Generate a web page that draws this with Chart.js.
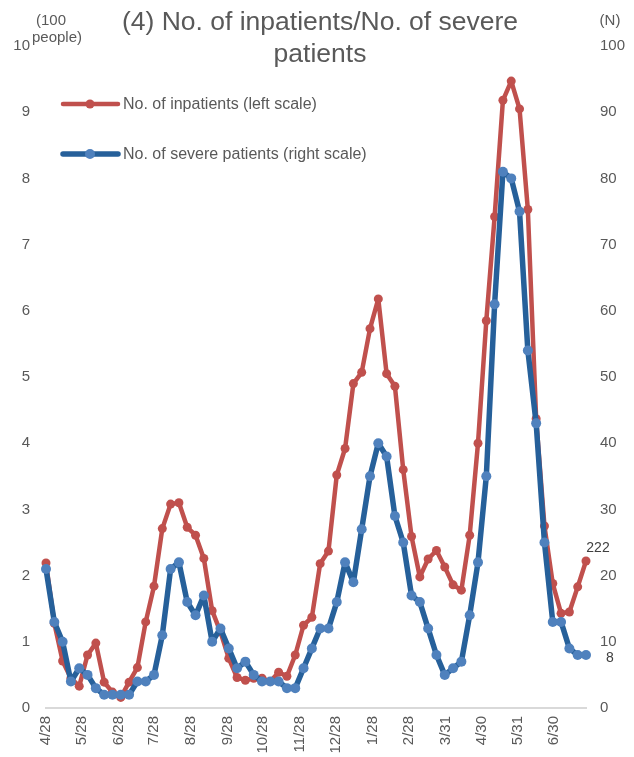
<!DOCTYPE html>
<html>
<head>
<meta charset="utf-8">
<script src="https://cdn.jsdelivr.net/npm/chart.js@4.4.1/dist/chart.umd.min.js"></script>
<style>
  html, body { margin: 0; padding: 0; background: #fff; }
</style>
</head>
<body>
<canvas id="chart" width="634" height="757"></canvas>
<script>
// weekly series starting 2020-04-28
const startDate = "2020-04-28";

// inpatients, in hundreds of people (left scale)
const inpatients = [
  2.19, 1.28, 0.71, 0.45, 0.33, 0.80, 0.98, 0.39, 0.24, 0.16,
  0.39, 0.61, 1.30, 1.84, 2.71, 3.08, 3.10, 2.73, 2.61, 2.26,
  1.47, 1.15, 0.75, 0.46, 0.42, 0.45, 0.45, 0.40, 0.54, 0.48,
  0.80, 1.25, 1.37, 2.18, 2.37, 3.52, 3.92, 4.90, 5.07, 5.73,
  6.18, 5.05, 4.86, 3.60, 2.59, 1.98, 2.25, 2.38, 2.13, 1.86,
  1.78, 2.61, 4.00, 5.85, 7.42, 9.18, 9.47, 9.05, 7.53, 4.37,
  2.75, 1.88, 1.43, 1.45, 1.83, 2.22
];

// severe patients, persons (right scale)
const severe = [
  21, 13, 10, 4, 6, 5, 3, 2, 2, 2,
  2, 4, 4, 5, 11, 21, 22, 16, 14, 17,
  10, 12, 9, 6, 7, 5, 4, 4, 4, 3,
  3, 6, 9, 12, 12, 16, 22, 19, 27, 35,
  40, 38, 29, 25, 17, 16, 12, 8, 5, 6,
  7, 14, 22, 35, 61, 81, 80, 75, 54, 43,
  25, 13, 13, 9, 8, 8
];

const tickDates = [
  "2020-04-28", "2020-05-28", "2020-06-28", "2020-07-28", "2020-08-28",
  "2020-09-28", "2020-10-28", "2020-11-28", "2020-12-28", "2021-01-28",
  "2021-02-28", "2021-03-31", "2021-04-30", "2021-05-31", "2021-06-30"
];

const titleLines = ["(4) No. of inpatients/No. of severe", "patients"];
const seriesNames = ["No. of inpatients (left scale)", "No. of severe patients (right scale)"];
const leftUnit = ["(100", "people)"];
const rightUnit = "(N)";

const FONT = '"Liberation Sans", Arial, sans-serif';
const GREY = "#595959";
const RED = "#c0504d";
const BLUE_LINE = "#26609a";
const BLUE_DOT = "#4f81bd";

const DAY = 86400000;
const dayOf = s => Math.round((Date.parse(s) - Date.parse(startDate)) / DAY);
const tickDays = tickDates.map(dayOf);
const tickLabels = tickDates.map(s => {
  const d = new Date(s);
  return (d.getUTCMonth() + 1) + "/" + d.getUTCDate();
});
const lastDay = (inpatients.length - 1) * 7;

const annotate = {
  id: "annotate",
  afterDraw(chart) {
    const c = chart.ctx;
    const a = chart.chartArea;
    c.save();

    // title
    c.fillStyle = GREY;
    c.font = "26.5px " + FONT;
    c.textAlign = "center";
    c.textBaseline = "alphabetic";
    titleLines.forEach((t, i) => c.fillText(t, chart.width / 2 + 3, 30 + i * 32));

    // axis units
    c.font = "15px " + FONT;
    c.textAlign = "left";
    c.fillText(leftUnit[0], 36, 25);
    c.fillText(leftUnit[1], 32, 42);
    c.textAlign = "center";
    c.fillText(rightUnit, 610, 25);

    // legend
    chart.data.datasets.forEach((ds, i) => {
      const y = a.top + 58 + i * 50;
      const x0 = a.left + 17;
      c.strokeStyle = ds.borderColor;
      c.lineWidth = ds.borderWidth;
      c.lineCap = "round";
      c.beginPath(); c.moveTo(x0, y); c.lineTo(x0 + 55, y); c.stroke();
      c.fillStyle = ds.pointBackgroundColor;
      c.beginPath(); c.arc(x0 + 27, y, ds.pointRadius, 0, Math.PI * 2); c.fill();
      c.fillStyle = GREY;
      c.font = "16px " + FONT;
      c.textAlign = "left";
      c.textBaseline = "middle";
      c.fillText(ds.label, x0 + 60, y + 1);
    });

    // last-point labels
    c.fillStyle = "#404040";
    c.font = "14px " + FONT;
    const rMeta = chart.getDatasetMeta(0);
    const rPt = rMeta.data[rMeta.data.length - 1];
    c.textAlign = "center";
    c.fillText(String(Math.round(inpatients[inpatients.length - 1] * 100)), rPt.x + 12, rPt.y - 13);
    const bMeta = chart.getDatasetMeta(1);
    const bPt = bMeta.data[bMeta.data.length - 1];
    c.textAlign = "left";
    c.fillText(String(severe[severe.length - 1]), bPt.x + 20, bPt.y + 3);

    c.restore();
  }
};

const tickFont = { family: FONT, size: 15 };

new Chart(document.getElementById("chart"), {
  type: "line",
  data: {
    datasets: [
      {
        label: seriesNames[0],
        data: inpatients.map((v, i) => ({ x: i * 7, y: v })),
        yAxisID: "y",
        borderColor: RED, backgroundColor: RED,
        pointBackgroundColor: RED, pointBorderColor: RED,
        borderWidth: 4.5, pointRadius: 4.5, pointBorderWidth: 0,
        borderJoinStyle: "round", borderCapStyle: "round",
        tension: 0, clip: false, order: 1,
      },
      {
        label: seriesNames[1],
        data: severe.map((v, i) => ({ x: i * 7, y: v })),
        yAxisID: "y2",
        borderColor: BLUE_LINE, backgroundColor: BLUE_DOT,
        pointBackgroundColor: BLUE_DOT, pointBorderColor: BLUE_DOT,
        borderWidth: 5.5, pointRadius: 5, pointBorderWidth: 0,
        borderJoinStyle: "round", borderCapStyle: "round",
        tension: 0, clip: false, order: 0,
      },
    ],
  },
  options: {
    responsive: false,
    animation: false,
    devicePixelRatio: 1,
    layout: { padding: { top: 46, left: 0, right: 0, bottom: 0 } },
    plugins: { legend: { display: false }, tooltip: { enabled: false }, title: { display: false } },
    scales: {
      x: {
        type: "linear", position: "bottom", min: 0, max: lastDay,
        afterBuildTicks: s => { s.ticks = tickDays.map(v => ({ value: v })); },
        afterFit: s => { s.height = 49; },
        grid: { display: false, drawTicks: false },
        border: { display: true, color: "#d9d9d9", width: 2 },
        ticks: {
          autoSkip: false, minRotation: 90, maxRotation: 90, padding: 8,
          color: GREY, font: tickFont,
          callback: (v, i) => tickLabels[i],
        },
      },
      y: {
        position: "left", min: 0, max: 10,
        afterFit: s => { s.width = 46; },
        grid: { display: false, drawTicks: false },
        border: { display: false },
        ticks: { stepSize: 1, padding: 16, color: GREY, font: tickFont },
      },
      y2: {
        position: "right", min: 0, max: 100,
        afterFit: s => { s.width = 48; },
        grid: { display: false, drawTicks: false },
        border: { display: false },
        ticks: { stepSize: 10, padding: 14, color: GREY, font: tickFont },
      },
    },
  },
  plugins: [annotate],
});
</script>
</body>
</html>
